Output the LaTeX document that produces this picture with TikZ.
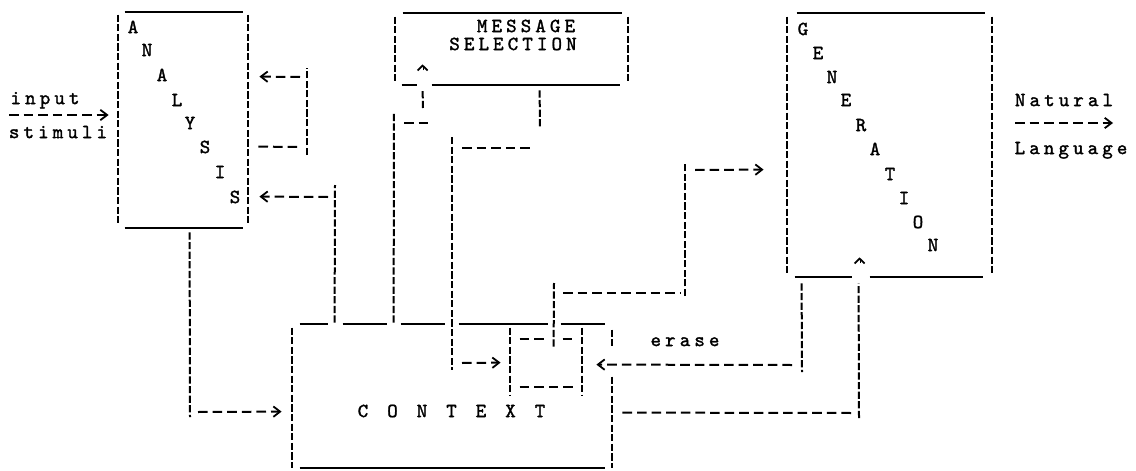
\documentclass[tikz,border=0pt]{standalone}
\usepackage{fontspec}
\newfontfamily\twfont{Latin Modern Mono}[FakeBold=1.6]
\usetikzlibrary{arrows.meta,fit,calc}
\newcommand\twsp[1]{\twspaux#1\relax}
\def\twspaux#1{\ifx\relax#1\else\makebox[7.3pt]{#1}\expandafter\twspaux\fi}
\begin{document}
\begin{tikzpicture}[x=0.5pt,y=-0.5pt,
  txt/.style={inner sep=0pt,font=\twfont\fontsize{10}{12}\selectfont,text height=6.1pt,text depth=0pt},
  hdsh/.style={line width=1pt,dash pattern=on 4.8pt off 2.5pt},
  vdsh/.style={line width=1pt,dash pattern=on 3.6pt off 1.2pt},
  sl/.style={line width=1pt},
  arr/.style={-{Straight Barb[length=3.4pt,width=5.2pt,line width=0.9pt]}},
  caret/.style={line width=0.05pt,-{Straight Barb[length=2.4pt,width=5pt,line width=0.9pt]}},
  boxn/.style={inner sep=0pt}]

\useasboundingbox (0,0) rectangle (1136,471);

% ---------- box nodes
\node[boxn,fit={(118,12) (248,228)}] (ana) {};
\node[boxn,fit={(395,13) (628,85)}] (msg) {};
\node[boxn,fit={(787,13) (992,277)}] (gen) {};
\node[boxn,fit={(292,324) (612,468)}] (ctx) {};
\node[boxn,fit={(510,339) (582,387)}] (inner) {};

% ---------- ANALYSIS box
\draw[sl] ($(ana.north west)+(7,0)$) -- ($(ana.north east)+(-5,0)$);
\draw[sl] ($(ana.south west)+(7,0)$) -- ($(ana.south east)+(-5,0)$);
\draw[vdsh] ($(ana.north west)+(0,3)$) -- ($(ana.south west)+(0,-3)$);
\draw[vdsh] ($(ana.north east)+(0,3)$) -- ($(ana.south east)+(0,-3)$);
\foreach \ch/\x/\y [count=\i] in {A/133/27,N/147/50,A/162/75,L/177/100,Y/190/123,S/205/147,I/220/172,S/235/197}
  \node[txt] (an\i) at (\x,\y) {\ch};

% ---------- MESSAGE SELECTION box
\draw[sl] ($(msg.north west)+(8,0)$) -- ($(msg.north east)+(-6,0)$);
\draw[sl] ($(msg.south west)+(7,0)$) -- ($(msg.south west)+(22,0)$);
\draw[sl] ($(msg.south west)+(37,0)$) -- ($(msg.south east)+(-8,0)$);
\draw[vdsh] ($(msg.north west)+(0,4)$) -- ($(msg.south west)+(0,-2)$);
\draw[vdsh] ($(msg.north east)+(0,4)$) -- ($(msg.south east)+(0,-2)$);
\node[txt] (msg1) at (526,26) {\twsp{MESSAGE}};
\node[txt] (msg2) at (513,44) {\twsp{SELECTION}};

% ---------- GENERATION box
\draw[sl] ($(gen.north west)+(10,0)$) -- ($(gen.north east)+(-7,0)$);
\draw[sl] ($(gen.south west)+(8,0)$) -- ($(gen.south west)+(65,0)$);
\draw[sl] ($(gen.south west)+(83,0)$) -- ($(gen.south east)+(-9,0)$);
\draw[vdsh] ($(gen.north west)+(0,4)$) -- ($(gen.south west)+(0,-2)$);
\draw[vdsh] ($(gen.north east)+(0,4)$) -- ($(gen.south east)+(0,-2)$);
\foreach \ch/\x/\y [count=\i] in {G/803/29,E/818/53,N/832/77,E/846/100,R/861/125,A/875/149,T/890/174,I/904/198,O/918/222,N/933/245}
  \node[txt] (ge\i) at (\x,\y) {\ch};

% ---------- CONTEXT box
\draw[sl] ($(ctx.north west)+(8,0)$) -- ($(ctx.north west)+(36,0)$);
\draw[sl] ($(ctx.north west)+(51,0)$) -- ($(ctx.north west)+(95,0)$);
\draw[sl] ($(ctx.north west)+(109,0)$) -- ($(ctx.north west)+(153,0)$);
\draw[sl] ($(ctx.north west)+(167,0)$) -- ($(ctx.north west)+(256,0)$);
\draw[sl] ($(ctx.north west)+(269,0)$) -- ($(ctx.north east)+(-7,0)$);
\draw[sl] ($(ctx.south west)+(8,0)$) -- ($(ctx.south east)+(-7,0)$);
\draw[vdsh] ($(ctx.north west)+(0,4)$) -- (ctx.south west);
\draw[vdsh] ($(ctx.north east)+(0,6)$) -- ($(ctx.north east)+(0,24)$);
\draw[vdsh] ($(ctx.north east)+(0,53)$) -- (ctx.south east);
\foreach \ch/\x [count=\i] in {C/363,O/392.5,N/422,T/451.5,E/481,X/510.5,T/540}
  \node[txt] (cx\i) at (\x,411) {\ch};

% ---------- inner box
\draw[vdsh] ($(inner.north west)+(0,-11)$) -- ($(inner.south west)+(0,8)$);
\draw[vdsh] ($(inner.north east)+(0,-11)$) -- ($(inner.south east)+(0,8)$);
\draw[hdsh] ($(inner.north west)+(10,0)$) -- ($(inner.north west)+(38,0)$);
\draw[hdsh] ($(inner.north west)+(53,0)$) -- ($(inner.north west)+(65,0)$);
\draw[hdsh] ($(inner.south west)+(10,0)$) -- ($(inner.south west)+(65,0)$);

% ---------- outer labels
\node[txt] (input) at (45,98) {\twsp{input}};
\node[txt] (stim) at (58,132) {\twsp{stimuli}};
\node[txt] (nat) at (1064,100) {\twsp{Natural}};
\node[txt] (lang) at (1071,148) {\twsp{Language}};
\node[txt] (erase) at (685,340) {\twsp{erase}};

% ---------- connectors
% input stimuli -> ANALYSIS
\coordinate (inS) at (9,115);
\draw[hdsh,arr] (inS) -- ($(inS -| ana.west)+(-9,0)$);

% ANALYSIS feedback loop
\draw[hdsh] ($(ana.north east)+(10,135)$) -- (300,147);
\draw[vdsh] (307,155) -- (307,68);
\draw[hdsh,arr] (300,77) -- ($(ana.north east)+(11,65)$);

% CONTEXT -> ANALYSIS
\draw[vdsh] ($(ctx.north west)+(43,-1)$) -- (335,185);
\draw[hdsh,arr] (328,197) -- ($(ana.north east)+(11,185)$);

% CONTEXT -> MESSAGE SELECTION
\draw[vdsh] ($(ctx.north west)+(102,-1)$) -- (394,112);
\draw[hdsh] (404,123) -- (430,123);
\draw[vdsh] (423,108) -- ($(msg.south west)+(28,5)$);
\draw[caret] ($(msg.south west)+(28,-15)$) -- ($(msg.south west)+(28,-21)$);

% MESSAGE SELECTION -> inner box
\draw[vdsh] ($(msg.south west)+(145,5)$) -- (540,128);
\draw[hdsh] (462,148) -- (530,148);
\draw[vdsh] (452,137) -- (452,370);
\draw[hdsh,arr] (462,363) -- ($(inner.north west)+(-9,24)$);

% inner box -> GENERATION
\draw[vdsh] ($(inner.north west)+(44,8)$) -- (554,283);
\draw[hdsh] (563,293) -- (680,293);
\draw[vdsh] (685,296) -- (685,162);
\draw[hdsh,arr] (695,170) -- ($(gen.north west)+(-23,157)$);

% GENERATION -> inner box (erase)
\draw[vdsh] ($(gen.south west)+(15,6)$) -- (802,372);
\draw[hdsh,arr] (792,365) -- ($(inner.north east)+(14,26)$);

% CONTEXT -> GENERATION
\draw[hdsh] ($(ctx.north east)+(10,89)$) -- (852,413);
\draw[vdsh] (859,418) -- ($(gen.south west)+(72,6)$);
\draw[caret] ($(gen.south west)+(73,-14)$) -- ($(gen.south west)+(73,-20)$);

% ANALYSIS -> CONTEXT
\draw[vdsh] ($(ana.south west)+(72,4)$) -- (190,417);
\draw[hdsh,arr] (198,412) -- ($(ctx.north west)+(-10,88)$);

% GENERATION -> Natural Language
\coordinate (outS) at (1015,123);
\coordinate (outE) at (1113,123);
\draw[hdsh,arr] (outS) -- (outE);
\end{tikzpicture}
\end{document}
